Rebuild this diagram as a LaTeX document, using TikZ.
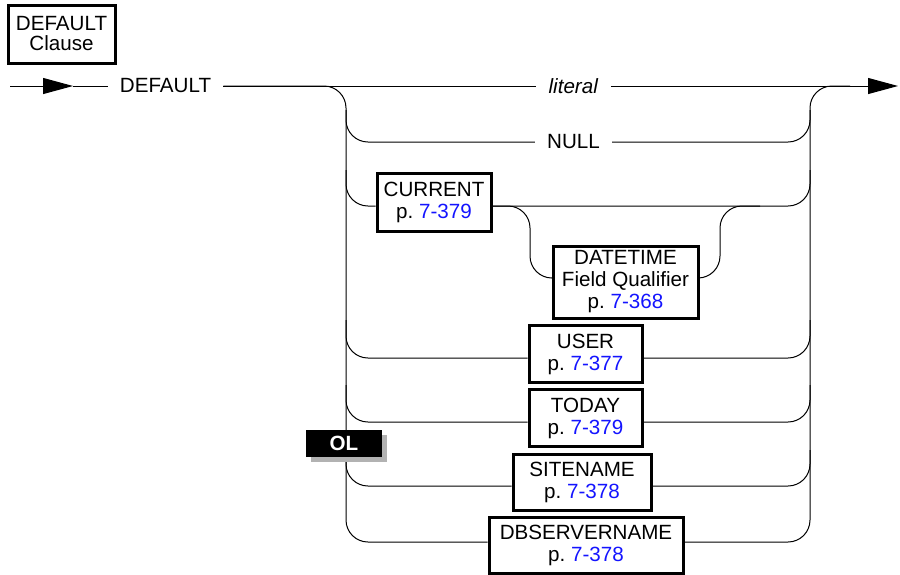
\documentclass[tikz,border=0pt]{standalone}
\usepackage{fontspec}
\setmainfont{Liberation Sans}
\usepackage{xcolor}
\usetikzlibrary{arrows.meta,shadows}
\definecolor{linkblue}{RGB}{20,20,255}
\newcommand{\pgref}[1]{p.~\textcolor{linkblue}{#1}}

\begin{document}
\begin{tikzpicture}[x=0.5pt, y=-0.5pt, every node/.style={font=\fontsize{10.3}{11}\selectfont},
  box/.style={draw, line width=1.5pt, fill=white, align=center, inner sep=0pt},
  word/.style={inner xsep=6pt, inner ysep=2pt},
  rail/.style={line width=0.5pt, rounded corners=11pt},
  tip/.style={-{Triangle[length=15pt, width=8pt]}}]
  \useasboundingbox (0,0) rectangle (900,574);

  % title box and keyword
  \node[box, minimum width=53.5pt, minimum height=29pt, font=\fontsize{10.3}{10}\selectfont] (clause) at (61.5,34) {DEFAULT\\Clause};
  \node[word] (kw) at (165.5,86) {DEFAULT};
  \node[word] (lit) at (573.5,86) {\textit{literal}};
  \node[word] (null) at (573.5,142) {NULL};

  % boxes of the choices
  \node[box, minimum width=57pt, minimum height=29pt] (cur) at (434,202) {CURRENT\\\pgref{7-379}};
  \node[box, minimum width=72.5pt, minimum height=36pt] (dt) at (625.5,282) {DATETIME\\Field Qualifier\\\pgref{7-368}};
  \node[box, minimum width=56.5pt, minimum height=28.5pt] (user) at (585.5,354) {USER\\\pgref{7-377}};
  \node[box, minimum width=56.5pt, minimum height=28.5pt] (today) at (585.5,418) {TODAY\\\pgref{7-379}};
  \node[box, minimum width=69pt, minimum height=28pt] (site) at (582,482) {SITENAME\\\pgref{7-378}};
  \node[box, minimum width=97pt, minimum height=28pt] (dbs) at (586,545) {DBSERVERNAME\\\pgref{7-378}};

  % entry and exit
  \coordinate (start) at (10,86);
  \coordinate (starttip) at (73,86);
  \coordinate (endtip) at (898,86);
  \draw[rail, tip] (start) -- (starttip);
  \draw[rail] (starttip) -- (kw.west);
  \draw[rail] (kw.east) -- (lit.west);
  \draw[rail, tip] (lit.east) -- (endtip);

  % rails
  \draw[rail] (kw.east) -- (346,86) -- (346,542) -- ([yshift=1.5pt]dbs.west);
  \draw[rail] ([yshift=1.5pt]dbs.east) -- (810,542) -- (810,86) -- (850,86);

  % NULL
  \draw[rail] (346,110) -- (346,142) -- (null.west);
  \draw[rail] (null.east) -- (810,142) -- (810,110);

  % CURRENT with optional qualifier
  \draw[rail] (346,170) -- (346,206) -- ([yshift=-2pt]cur.west);
  \draw[rail] ([yshift=-2pt]cur.east) -- (810,206) -- (810,170);
  \draw[rail] ([yshift=-2pt]cur.east) -- (530,206) -- (530,278) -- ([yshift=2pt]dt.west);
  \draw[rail] ([yshift=2pt]dt.east) -- (720,278) -- (720,206) -- (760,206);

  % USER, TODAY, SITENAME
  \foreach \n/\t in {user/320, today/385, site/450}{
    \draw[rail] ([yshift=-2pt]\n.west) -| (346,\t);
    \draw[rail] ([yshift=-2pt]\n.east) -| (810,\t);
  }

  % OL badge
  \node[fill=black, text=white, font=\fontsize{10.3}{10}\selectfont\bfseries, minimum width=38pt, minimum height=13.5pt,
    inner sep=0pt, drop shadow={shadow xshift=2.5pt, shadow yshift=-2.5pt, fill=black!30, opacity=1}] (ol) at (344,443.5) {OL};
\end{tikzpicture}
\end{document}
